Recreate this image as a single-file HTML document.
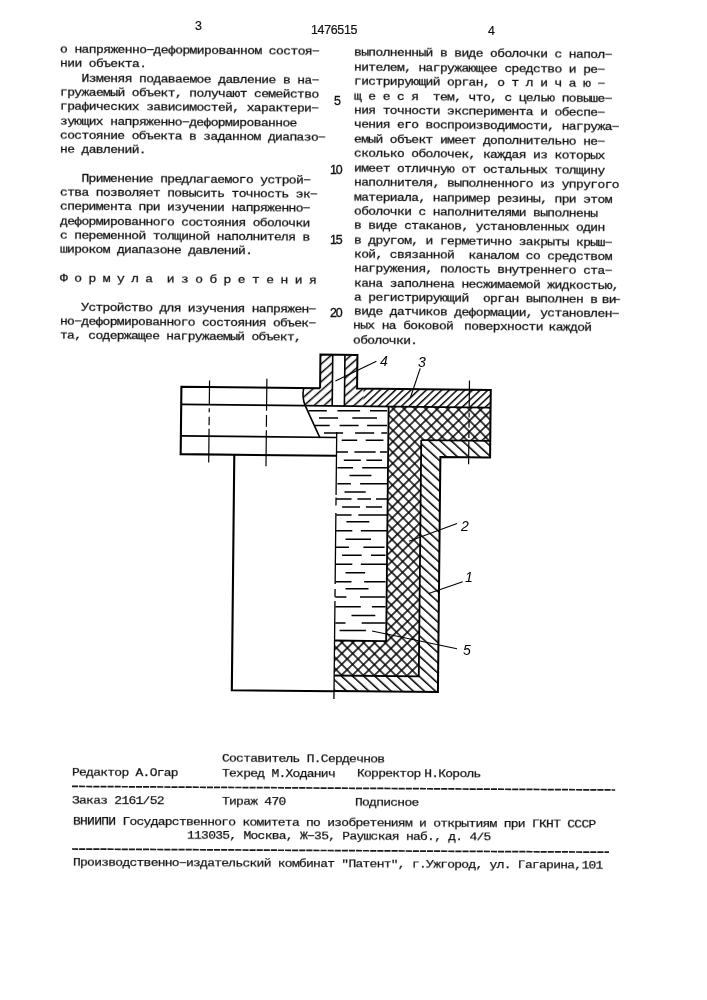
<!DOCTYPE html>
<html><head><meta charset="utf-8">
<style>
html,body{margin:0;padding:0;background:#fff;}
body{width:707px;height:1000px;position:relative;overflow:hidden;font-family:"Liberation Mono",monospace;color:#111;}
.l,.f,.n{will-change:transform;}
.l{position:absolute;white-space:pre;font-size:13px;letter-spacing:-0.6px;transform:rotate(0.48deg) scaleY(0.85);transform-origin:0 0;-webkit-text-stroke:0.3px #111;line-height:14px;height:14px;}
.r{transform:rotate(0.55deg) scaleY(0.85) !important;letter-spacing:-0.64px !important;}
.n{position:absolute;white-space:pre;font-family:"Liberation Sans",sans-serif;font-size:12.4px;letter-spacing:-0.5px;-webkit-text-stroke:0.2px #111;line-height:14px;height:14px;}
.f{position:absolute;white-space:pre;font-size:13px;letter-spacing:-0.74px;transform:rotate(0.33deg) scaleY(0.85);transform-origin:0 0;-webkit-text-stroke:0.25px #111;line-height:14px;height:14px;}
.d{position:absolute;height:0;border-top:1px dashed #222;}
</style></head><body>

<div class="l" style="left:60.40px;top:44.1px;letter-spacing:-0.600px">о напряженно−деформированном состоя−</div>
<div class="l" style="left:60.36px;top:58.4px;letter-spacing:-0.605px">нии объекта.</div>
<div class="l" style="left:60.32px;top:72.7px;letter-spacing:-0.611px">   Изменяя подаваемое давление в на−</div>
<div class="l" style="left:60.28px;top:87.0px;letter-spacing:-0.616px">гружаемый объект, получают семейство</div>
<div class="l" style="left:60.24px;top:101.3px;letter-spacing:-0.622px">графических зависимостей, характери−</div>
<div class="l" style="left:60.20px;top:115.6px;letter-spacing:-0.627px">зующих напряженно−деформированное</div>
<div class="l" style="left:60.16px;top:129.9px;letter-spacing:-0.633px">состояние объекта в заданном диапазо−</div>
<div class="l" style="left:60.12px;top:144.2px;letter-spacing:-0.638px">не давлений.</div>
<div class="l" style="left:60.04px;top:172.8px;letter-spacing:-0.649px">   Применение предлагаемого устрой−</div>
<div class="l" style="left:60.00px;top:187.1px;letter-spacing:-0.655px">ства позволяет повысить точность эк−</div>
<div class="l" style="left:59.96px;top:201.4px;letter-spacing:-0.660px">сперимента при изучении напряженно−</div>
<div class="l" style="left:59.92px;top:215.7px;letter-spacing:-0.666px">деформированного состояния оболочки</div>
<div class="l" style="left:59.88px;top:230.0px;letter-spacing:-0.671px">с переменной толщиной наполнителя в</div>
<div class="l" style="left:59.84px;top:244.3px;letter-spacing:-0.677px">широком диапазоне давлений.</div>
<div class="l" style="left:59.76px;top:272.9px;letter-spacing:-0.688px">Ф о р м у л а  и з о б р е т е н и я</div>
<div class="l" style="left:59.68px;top:301.5px;letter-spacing:-0.699px">   Устройство для изучения напряжен−</div>
<div class="l" style="left:59.64px;top:315.8px;letter-spacing:-0.704px">но−деформированного состояния объек−</div>
<div class="l" style="left:59.60px;top:330.1px;letter-spacing:-0.710px">та, содержащее нагружаемый объект,</div>
<div class="l r" style="left:354.40px;top:47.2px">выполненный в виде оболочки с напол−</div>
<div class="l r" style="left:354.35px;top:61.6px">нителем, нагружающее средство и ре−</div>
<div class="l r" style="left:354.30px;top:76.1px">гистрирующий орган, о т л и ч а ю −</div>
<div class="l r" style="left:354.25px;top:90.5px">щ е е с я  тем, что, с целью повыше−</div>
<div class="l r" style="left:354.20px;top:105.0px">ния точности эксперимента и обеспе−</div>
<div class="l r" style="left:354.15px;top:119.4px">чения его воспроизводимости, нагружа−</div>
<div class="l r" style="left:354.10px;top:133.8px">емый объект имеет дополнительно не−</div>
<div class="l r" style="left:354.05px;top:148.3px">сколько оболочек, каждая из которых</div>
<div class="l r" style="left:354.00px;top:162.7px">имеет отличную от остальных толщину</div>
<div class="l r" style="left:353.95px;top:177.2px">наполнителя, выполненного из упругого</div>
<div class="l r" style="left:353.90px;top:191.6px">материала, например резины, при этом</div>
<div class="l r" style="left:353.85px;top:206.0px">оболочки с наполнителями выполнены</div>
<div class="l r" style="left:353.80px;top:220.3px">в виде стаканов, установленных один</div>
<div class="l r" style="left:353.75px;top:234.6px">в другом, и герметично закрыты крыш−</div>
<div class="l r" style="left:353.70px;top:248.9px">кой, связанной  каналом со средством</div>
<div class="l r" style="left:353.65px;top:263.2px">нагружения, полость внутреннего ста−</div>
<div class="l r" style="left:353.60px;top:277.5px">кана заполнена несжимаемой жидкостью,</div>
<div class="l r" style="left:353.55px;top:291.8px">а регистрирующий  орган выполнен в<span style='margin-left:-3px'> </span>ви<span style='margin-left:-3px;letter-spacing:-2px'>−</span></div>
<div class="l r" style="left:353.50px;top:306.1px">виде датчиков деформации, установлен−</div>
<div class="l r" style="left:353.45px;top:320.4px">ных на боковой <span style='margin-left:-3.5px'> </span>поверхности<span style='margin-left:-1.5px'> </span>каждой</div>
<div class="l r" style="left:353.40px;top:334.7px">оболочки.</div>
<div class="n" style="left:195px;top:19px">3</div>
<div class="n" style="left:311px;top:23px;letter-spacing:-0.3px">1476515</div>
<div class="n" style="left:488px;top:24px">4</div>
<div class="n" style="left:334.2px;top:93.7px;letter-spacing:-1.1px;-webkit-text-stroke:0.35px #111">5</div>
<div class="n" style="left:330.2px;top:162.7px;letter-spacing:-1.1px;-webkit-text-stroke:0.35px #111">10</div>
<div class="n" style="left:330.2px;top:233.3px;letter-spacing:-1.1px;-webkit-text-stroke:0.35px #111">15</div>
<div class="n" style="left:330.2px;top:305.5px;letter-spacing:-1.1px;-webkit-text-stroke:0.35px #111">20</div>
<div class="f" style="left:222px;top:753.3px">Составитель П.Сердечнов</div>
<div class="f" style="left:71.9px;top:766.8px">Редактор А.Огар</div>
<div class="f" style="left:222px;top:767.7px">Техред М.Ходанич</div>
<div class="f" style="left:357px;top:768.4px">Корректор<span style='margin-left:-3.5px'> </span>Н.Король</div>
<div class="f" style="left:71.9px;top:795.0px">Заказ 2161/52</div>
<div class="f" style="left:222px;top:795.9px">Тираж 470</div>
<div class="f" style="left:355px;top:796.6px">Подписное</div>
<div class="f" style="left:72.7px;top:815.8px">ВНИИПИ Государственного комитета по изобретениям и открытиям при ГКНТ СССР</div>
<div class="f" style="left:187.3px;top:830.1px">113035, Москва, Ж−35, Раушская наб., д. 4/5</div>
<div class="f" style="left:72.7px;top:856.8px">Производственно−издательский комбинат "Патент", г.Ужгород, ул. Гагарина,101</div>
<svg width="707" height="1000" style="position:absolute;left:0;top:0"><g stroke="#1a1a1a" stroke-width="1.7" stroke-dasharray="6.15 0.95"><line x1="72" y1="786.4" x2="615.2" y2="790"/><line x1="72" y1="849" x2="609" y2="852.2"/></g></svg>
<svg width="707" height="1000" viewBox="0 0 707 1000" style="position:absolute;left:0;top:0">
<defs>
<pattern id="h3" width="5.3" height="5.3" patternUnits="userSpaceOnUse" patternTransform="rotate(-44)"><line x1="0" y1="2.5" x2="5.3" y2="2.5" stroke="#000" stroke-width="1.45"/></pattern>
<pattern id="h3b" width="6.6" height="6.6" patternUnits="userSpaceOnUse" patternTransform="rotate(-42)"><line x1="0" y1="2.5" x2="6.6" y2="2.5" stroke="#000" stroke-width="1.5"/></pattern>
<pattern id="h1" width="7.5" height="7.5" patternUnits="userSpaceOnUse" patternTransform="rotate(42)"><line x1="0" y1="3" x2="7.5" y2="3" stroke="#000" stroke-width="1.55"/></pattern>
<pattern id="h2" width="7.7" height="7.7" patternUnits="userSpaceOnUse" patternTransform="rotate(45)"><path d="M0,3.8H7.7M3.8,0V7.7" stroke="#000" stroke-width="1.5" fill="none"/></pattern>
</defs>
<g transform="rotate(0.6 336 540)" fill="none" stroke="#000" stroke-width="2.1" stroke-linejoin="miter">
<path stroke="none" fill="url(#h3b)" d="M302.1,388.4 Q300.3,398 303.8,406 H330.8 V354.7 H318.5 V388.4 Z"/>
<path stroke="none" fill="url(#h3b)" d="M343,354.7 H355.5 V388.4 H362 V406 H343 Z"/>
<path stroke="none" fill="url(#h3)" d="M362,388.4 H489.2 V406 H362 Z"/>
<path stroke="none" fill="url(#h2)" d="M387.2,406 H489.2 V439.2 H420.2 V675.5 H335.6 V640.5 H387.2 Z"/>
<path stroke="none" fill="url(#h1)" d="M420.2,439.2 H489.2 V455.8 H439.5 V691 H335.6 V675.5 H420.2 Z"/>
<path d="M318.5,388.4 H179.8 V455.8 H335.6"/>
<path d="M179.8,406 H303.8" stroke-width="1.7"/>
<path d="M179.8,437.5 H335.6" stroke-width="1.7"/>
<path d="M233.4,455.8 V691.3 H335.6"/>
<path d="M302.1,388.4 Q300.3,398 303.8,406 L318.9,438" stroke-width="1.6"/>
<path d="M318.5,388.4 V354.7 H355.5 V388.4 H489.2 V455.8 H439.5 V691 H335.6" stroke-width="2"/>
<path d="M330.8,354.7 V406 M343,354.7 V406" stroke-width="1.6"/>
<path d="M303.8,406 H489.2" stroke-width="1.7"/>
<path d="M420.2,439.2 H489.2" stroke-width="1.7"/>
<path d="M387.2,406 V640.5 H335.6" stroke-width="1.8"/>
<path d="M420.2,439.2 V675.5 H335.6" stroke-width="1.8"/>
<path d="M335.6,432 V495 M335.6,497.5 V505.5 M335.6,513 V584 M335.6,589 V597 M335.6,601 V699" stroke-width="1.3"/>
<path d="M207.9,381.8 V405.3 M207.9,409.5 V413.7 M207.9,418 V426.5 M207.9,430 V463.8" stroke-width="1.2"/>
<path d="M265.2,379.5 V411.4 M265.2,415.7 V427.6 M265.2,431 V467.1" stroke-width="1.2"/>
<path d="M467.8,379.1 V405.1 M467.8,411 V416.1 M467.8,419.6 V426.3 M467.8,429.6 V436.6 M467.8,439.9 V462.8" stroke-width="1.2"/>
</g>
<path d="M308.4,410.8H326.8M337.4,410.8H360.1M370,410.8H387M319,417.9H338.1M352.3,417.9H377M314.8,425.4H329.7M339.6,425.4H358.6M367.1,425.4H387M324,432.9H343.1M355.1,432.9H374.2M381.3,432.9H387M341.7,440.3H357.2M365.7,440.3H383.4M336.7,451.9H348M354.4,451.9H375.6M379.9,451.9H387M343.8,460.3H360.8M366.4,460.3H382M337.4,467.8H353M362.2,467.8H387M349.5,475.6H371.4M337.4,483.8H350.9M360.1,483.8H387M344.5,491.9H365.7M336.2,499H351.5M357.4,499H371M376,499H387M342.1,506.9H360M365.9,506.9H382.1M336.2,514.9H351.5M358.3,514.9H387.2M346.4,521.7H369.3M336,530.7H352.3M360.8,530.7H387.2M345.5,539.2H371M336,547.2H348.9M363.4,547.2H384.6M342.1,555.3H361.7M371,555.3H385.5M336,564.2H352.3M360.8,564.2H386.3M345.5,572.7H365.1M335.3,581.7H351.5M364.2,581.7H385.5M345.5,588.8H368.5M335.3,597H346.4M360,597H385.5M335.3,606.7H360.8M371.9,606.7H385.5M351.5,615.5H375.3M335.3,622.9H345.5M361.7,622.9H385.5M339.6,630.5H365.9" stroke="#000" stroke-width="1.5" fill="none"/>
<g stroke="#000" stroke-width="1.1" fill="none">
<path d="M376.4,361.2 L335.4,381"/>
<path d="M420.2,368.3 L410.3,398"/>
<path d="M457,523.4 L409,541.2"/>
<path d="M462.7,581.7 L428.7,593.5"/>
<path d="M457,648.7 L372,631"/>
</g>
<g font-family="Liberation Sans, sans-serif" font-style="italic" font-size="14px" fill="#000">
<text x="380" y="366">4</text>
<text x="418" y="366.5">3</text>
<text x="461" y="530.5">2</text>
<text x="465" y="581.5">1</text>
<text x="463" y="654.5">5</text>
</g>
</svg>
</body></html>
